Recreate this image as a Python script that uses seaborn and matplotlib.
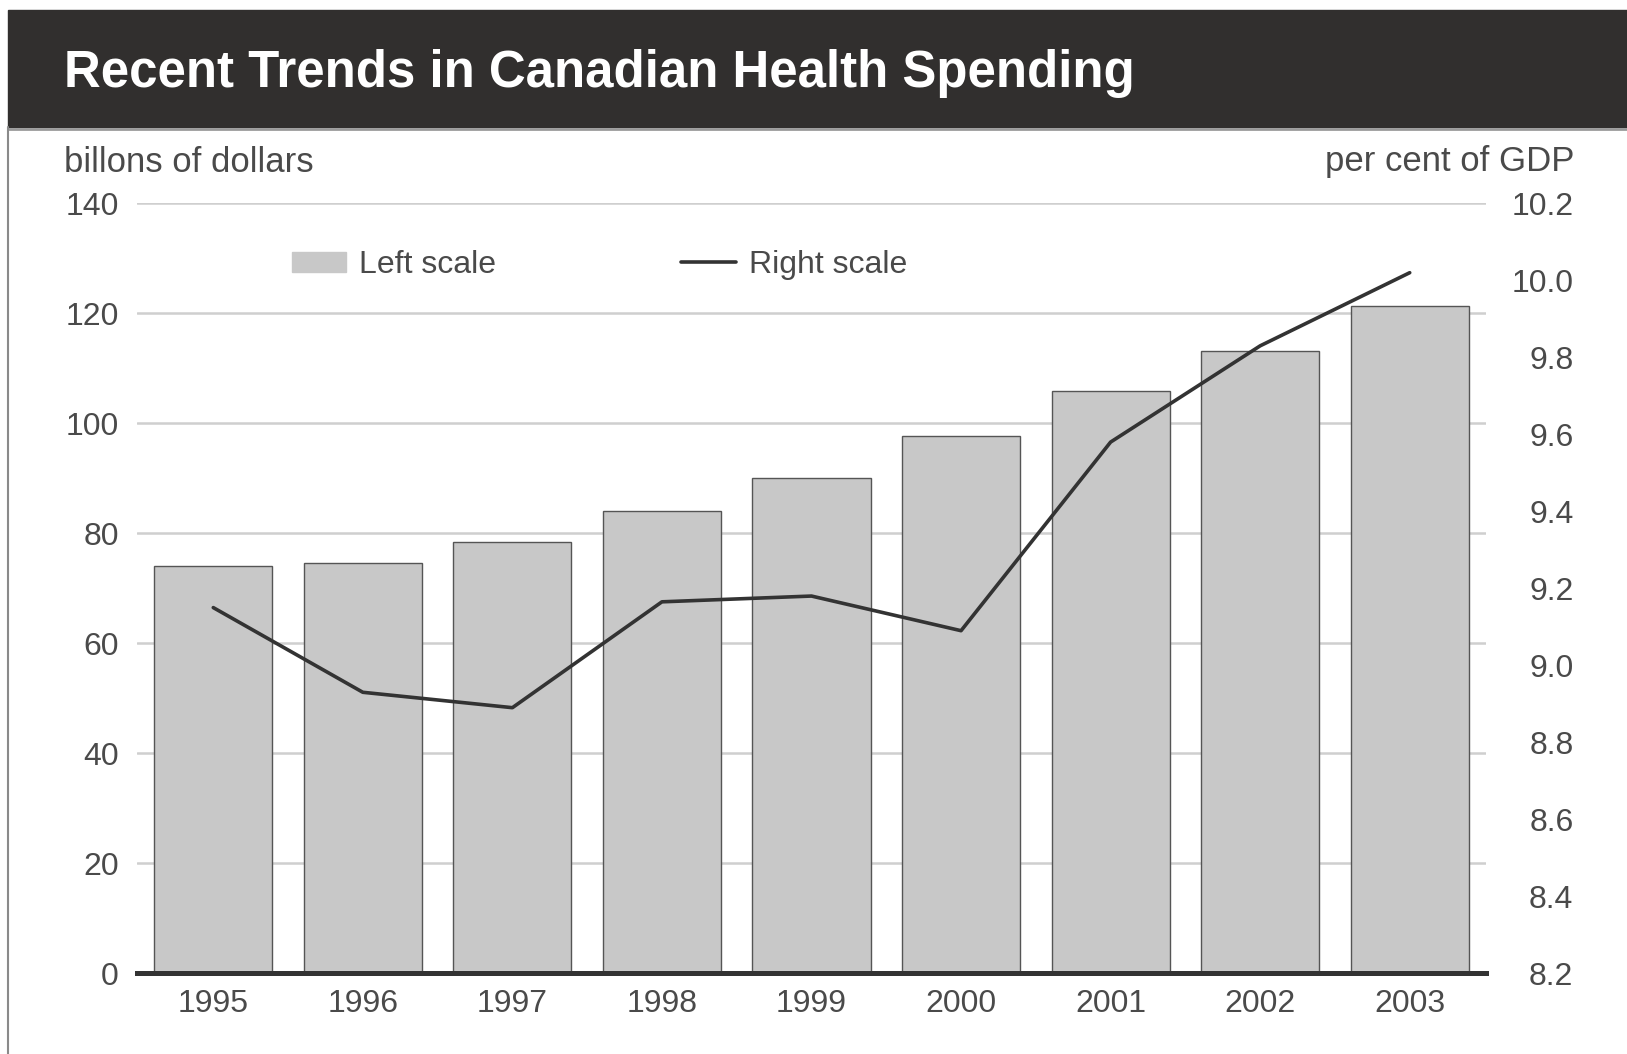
import matplotlib
matplotlib.use("Agg")
import matplotlib.pyplot as plt
from matplotlib.patches import Rectangle
from matplotlib.lines import Line2D
import numpy as np
import seaborn as sns

# 資料
years = ["1995", "1996", "1997", "1998", "1999", "2000", "2001", "2002", "2003"]
spending = [74.0, 74.7, 78.5, 84.0, 90.0, 97.7, 105.8, 113.2, 121.3]  # billions of dollars
gdp_share = [9.15, 8.93, 8.89, 9.165, 9.18, 9.09, 9.58, 9.83, 10.02]   # per cent of GDP
left_ticks = [0, 20, 40, 60, 80, 100, 120, 140]
right_ticks = [8.2, 8.4, 8.6, 8.8, 9.0, 9.2, 9.4, 9.6, 9.8, 10.0, 10.2]

sns.set_theme(style="white")
plt.rcParams["font.family"] = ["Liberation Sans", "DejaVu Sans"]

W, H = 1627, 1054
fig = plt.figure(figsize=(W / 100, H / 100), dpi=100)
fig.patch.set_facecolor("white")

# 標題區塊
fig.patches.append(Rectangle((8.3 / W, 1 - 126.6 / H), 1, 116.2 / H,
                             transform=fig.transFigure, color="#312f2e", zorder=0))
fig.add_artist(Line2D([8.3 / W, 1], [1 - 128.5 / H] * 2, transform=fig.transFigure,
                      color="#9a9a9a", lw=2))
fig.add_artist(Line2D([8.3 / W] * 2, [0, 1 - 126.6 / H], transform=fig.transFigure,
                      color="#8a8a8a", lw=1.5))
fig.text(64.3 / W, 1 - 73.5 / H, "Recent Trends in Canadian Health Spending",
         color="white", fontsize=36.7, fontweight="bold", va="center", ha="left")

text_color = "#4a4a4a"
fig.text(64 / W, 1 - 162 / H, "billons of dollars", fontsize=25, color=text_color,
         va="center", ha="left")
fig.text(1574 / W, 1 - 162 / H, "per cent of GDP", fontsize=25, color=text_color,
         va="center", ha="right")

ax = fig.add_axes([137 / W, 1 - 973.3 / H, (1486 - 137) / W, (973.3 - 203.4) / H])

sns.barplot(x=years, y=spending, color="#c8c8c8", saturation=1, edgecolor="#555555",
            linewidth=1, width=0.79, ax=ax, label="Left scale")
ax.set_xlim(-0.51, len(years) - 0.49)
ax.set_ylim(0, 140)
ax.set_yticks(left_ticks)
ax.set_xlabel("")
ax.set_ylabel("")
ax.set_axisbelow(True)
ax.yaxis.grid(True, color="#cfcfcf", lw=1.8)
ax.xaxis.grid(False)
for side in ["left", "right", "top"]:
    ax.spines[side].set_visible(False)
ax.spines["bottom"].set_color("#333333")
ax.spines["bottom"].set_linewidth(3.6)
ax.tick_params(axis="y", length=0, pad=13, labelsize=23, labelcolor=text_color)
ax.tick_params(axis="x", length=0, pad=11, labelsize=23, labelcolor=text_color)

ax2 = ax.twinx()
sns.lineplot(x=np.arange(len(years)), y=gdp_share, color="#333333", lw=2.6,
             ax=ax2, label="Right scale")
ax2.set_ylim(8.2, 10.2)
ax2.set_yticks(right_ticks)
ax2.set_yticklabels([f"{v:.1f}" for v in right_ticks])
ax2.set_ylabel("")
for side in ["left", "right", "top", "bottom"]:
    ax2.spines[side].set_visible(False)
ax2.tick_params(axis="y", length=0, pad=63, labelsize=23, labelcolor=text_color)
for lbl in ax2.get_yticklabels():
    lbl.set_horizontalalignment("right")
ax2.grid(False)

# 圖例
h1, l1 = ax.get_legend_handles_labels()
h2, l2 = ax2.get_legend_handles_labels()
if ax.get_legend() is not None:
    ax.get_legend().remove()
leg = ax2.legend(h1 + h2, l1 + l2, loc="center left", bbox_to_anchor=(0.115, 0.92),
                 ncol=2, frameon=False, fontsize=23, labelcolor=text_color,
                 handlelength=1.7, handleheight=0.6, handletextpad=0.4,
                 columnspacing=5.8, borderpad=0, borderaxespad=0)
leg.legend_handles[0].set_edgecolor("#c8c8c8")

fig.savefig("out.png", dpi=100)
